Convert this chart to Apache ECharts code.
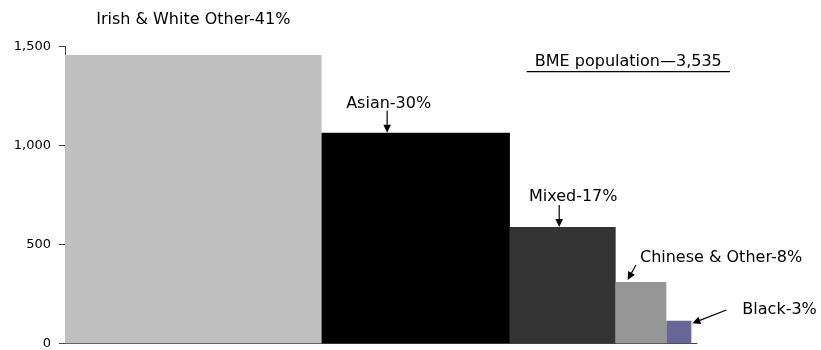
<!DOCTYPE html>
<html><head><meta charset="utf-8">
<script src="https://cdn.jsdelivr.net/npm/echarts@6/dist/echarts.min.js"></script>
<style>html,body{margin:0;padding:0;background:#fff}#chart{width:821px;height:350px}</style>
</head><body><div id="chart"></div>
<script>
// BME population by ethnic group: column height = people, column width = share
const groups = ['Irish & White Other', 'Asian', 'Mixed', 'Chinese & Other', 'Black'];
const population = [1456, 1063, 587, 310, 114];
const sharePct = [41, 30, 17, 8, 3];
const widthShare = [41, 30.1, 16.9, 8.1, 4];
const yTicks = [0, 500, 1000, 1500];
const totalText = 'BME population\u20143,535';

const FONT = '"DejaVu Sans"';
const colors = ['#c0c0c0', '#000000', '#333333', '#969696', '#666699'];

// cumulative x extents of each column
const rows = [];
let acc = 0;
for (let i = 0; i < groups.length; i++) {
  rows.push([acc, acc + widthShare[i], population[i], groups[i]]);
  acc += widthShare[i];
}

const chart = echarts.init(document.getElementById('chart'), null, { renderer: 'canvas' });

chart.setOption({
  animation: false,
  grid: { left: 65, right: 124, top: 46.3, bottom: 6.7, containLabel: false },
  xAxis: {
    type: 'value', min: 0, max: 101,
    axisLine: { show: true, lineStyle: { color: '#444', width: 1 } },
    axisTick: { show: false }, axisLabel: { show: false }, splitLine: { show: false }
  },
  yAxis: {
    type: 'value', min: yTicks[0], max: yTicks[yTicks.length - 1], interval: yTicks[1] - yTicks[0],
    axisLine: { show: true, lineStyle: { color: '#444', width: 1 } },
    axisTick: { show: true, length: 6, lineStyle: { color: '#444' } },
    axisLabel: {
      color: '#000', fontFamily: 'DejaVu Sans', fontSize: 13, margin: 14,
      formatter: v => v.toLocaleString('en-US')
    },
    splitLine: { show: false }
  },
  series: [{
    type: 'custom',
    data: rows,
    encode: { x: [0, 1], y: 2 },
    renderItem(params, api) {
      const tl = api.coord([api.value(0), api.value(2)]);
      const br = api.coord([api.value(1), 0]);
      return {
        type: 'rect',
        shape: { x: tl[0], y: tl[1], width: br[0] - tl[0], height: br[1] - tl[1] },
        style: { fill: colors[params.dataIndex] }
      };
    }
  }]
});

// annotation helpers
function px(x, y) { return chart.convertToPixel({ gridIndex: 0 }, [x, y]); }
function label(text, x, y, align) {
  return {
    type: 'text', x, y, z: 10,
    style: { text, fill: '#000', font: '16px ' + FONT, align: align || 'left', verticalAlign: 'middle' }
  };
}
function arrow(x1, y1, x2, y2) {
  const ang = Math.atan2(y2 - y1, x2 - x1);
  const hl = 8, hw = 3.8;
  const bx = x2 - hl * Math.cos(ang), by = y2 - hl * Math.sin(ang);
  const nx = -Math.sin(ang), ny = Math.cos(ang);
  return [
    { type: 'line', z: 10, shape: { x1, y1, x2: bx, y2: by }, style: { stroke: '#000', lineWidth: 1.2 } },
    { type: 'polygon', z: 10, shape: { points: [[x2, y2], [bx + nx * hw, by + ny * hw], [bx - nx * hw, by - ny * hw]] }, style: { fill: '#000' } }
  ];
}

const els = [];
const tops = rows.map(r => px(r[0], r[2]));
const rights = rows.map(r => px(r[1], r[2]));
const txt = i => groups[i] + '-' + sharePct[i] + '%';

// Irish & White Other: centred above column
els.push(label(txt(0), (tops[0][0] + rights[0][0]) / 2, tops[0][1] - 35, 'center'));
// Asian
{
  const ax = tops[1][0] + 65.6, ty = tops[1][1];
  els.push(label(txt(1), ax + 1.5, ty - 29, 'center'));
  els.push(...arrow(ax, ty - 22, ax, ty));
}
// Mixed
{
  const ax = tops[2][0] + 49.3, ty = tops[2][1];
  els.push(label(txt(2), ax + 14, ty - 30, 'center'));
  els.push(...arrow(ax, ty - 22, ax, ty));
}
// Chinese & Other
{
  const lx = tops[3][0], ty = tops[3][1];
  els.push(label(txt(3), lx + 24.3, ty - 24));
  els.push(...arrow(lx + 20.3, ty - 17, lx + 12, ty - 2));
}
// Black
{
  const rx = rights[4][0], ty = rights[4][1];
  els.push(label(txt(4), rx + 51, ty - 10.7));
  els.push(...arrow(rx + 35, ty - 10.7, rx + 1, ty + 2.6));
}
// total, underlined
els.push(label(totalText, 628.3, 61.7, 'center'));
els.push({ type: 'line', z: 10, shape: { x1: 526.7, y1: 71.7, x2: 730, y2: 71.7 }, style: { stroke: '#000', lineWidth: 1.3 } });

chart.setOption({ graphic: els });
</script>
</body></html>
